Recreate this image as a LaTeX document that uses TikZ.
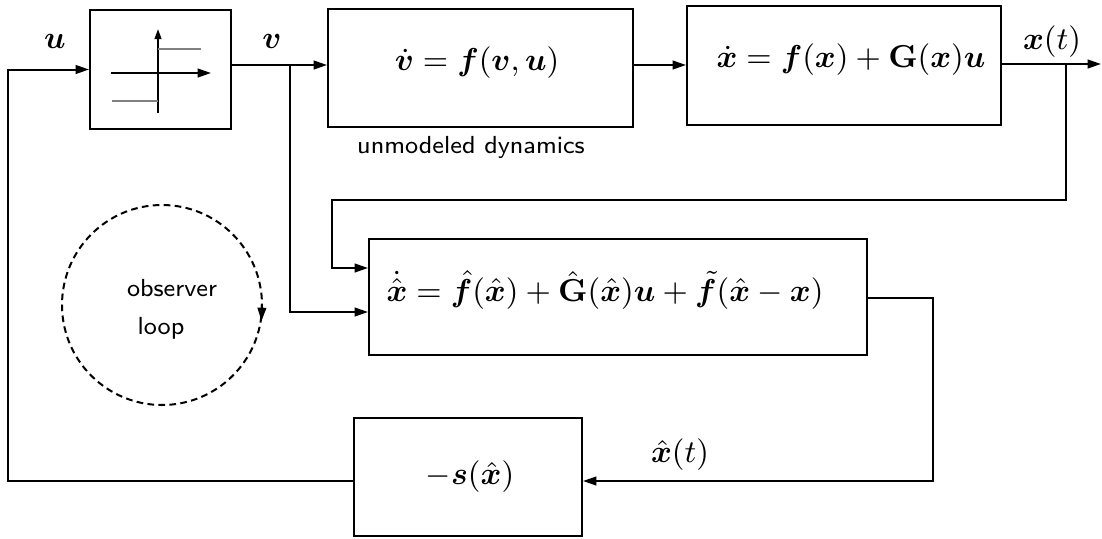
\RequirePackage{fix-cm}
\documentclass[tikz,border=0pt]{standalone}
\usepackage{amsmath,amssymb,bm}
\usetikzlibrary{arrows.meta}
\begin{document}
\begin{tikzpicture}[x=0.3pt,y=-0.3pt,line width=0.6pt,
  >={Triangle[length=4pt,width=2.6pt]},
  blk/.style={draw,rectangle,inner sep=0pt},
  lbl/.style={inner sep=0pt,font=\fontsize{9.5}{11.4}\selectfont},
  sflbl/.style={font=\sffamily\fontsize{7.4}{9}\selectfont,inner sep=0pt}]
\useasboundingbox (0,0) rectangle (1102,538);
% blocks
\node[blk,minimum width=42.3pt,minimum height=35.7pt] (sat) at (160.5,69.5) {};
\node[blk,minimum width=91.5pt,minimum height=35.4pt] (b2) at (480.5,68) {};
\node[blk,minimum width=94.2pt,minimum height=35.7pt] (b3) at (844,65.5) {};
\node[blk,minimum width=149.4pt,minimum height=34.8pt] (obs) at (618,297) {};
\node[blk,minimum width=68.4pt,minimum height=35.4pt] (sw) at (468,477) {};
% block texts
\node[lbl] (t2) at (477,63) {$\dot{\boldsymbol v}=\boldsymbol f(\boldsymbol v,\boldsymbol u)$};
\node[lbl] (t3) at (851,60) {$\dot{\boldsymbol x}=\boldsymbol f(\boldsymbol x)+\mathbf G(\boldsymbol x)\boldsymbol u$};
\node[lbl] (tobs) at (605,290) {$\dot{\hat{\boldsymbol x}}=\hat{\boldsymbol f}(\hat{\boldsymbol x})+\hat{\mathbf G}(\hat{\boldsymbol x})\boldsymbol u+\tilde{\boldsymbol f}(\hat{\boldsymbol x}-\boldsymbol x)$};
\node[lbl] (tsw) at (470,477) {$-\boldsymbol s(\hat{\boldsymbol x})$};
% saturation symbol
\draw[-{Triangle[length=3pt,width=2pt]}] (158,113) -- (158,29);
\draw[->] (111,73) -- (211,73);
\draw[gray,line width=0.5pt] (158,49) -- (201,49);
\draw[gray,line width=0.5pt] (112,101) -- (158,101);
% coordinates
\coordinate (fbL) at (8,481);
\coordinate (vb) at (290,65);
\coordinate (xb) at (1066,64);
\coordinate (xend) at (1101,64);
\coordinate (r1) at (332,200);
\coordinate (in1) at (0,268);
\coordinate (in2) at (0,312);
\coordinate (oo) at (933,298);
\coordinate (fb) at (933,481);
% connectors
\draw[->] (sw.west|-fbL) -- (fbL) |- (sat.west);
\draw[->] (sat.east|-vb) -- (b2.west|-vb);
\draw[->] (b2.east|-vb) -- (b3.west|-vb);
\draw[->] (b3.east|-xb) -- (xend);
\draw[->] (xb) -- (xb|-r1) -- (r1) |- (obs.west|-in1);
\draw[->] (vb) |- (obs.west|-in2);
\draw[->] (obs.east|-oo) -- (oo) -- (fb) -- (sw.east|-fb);
% labels
\node[lbl] (lu) at (55,41) {$\boldsymbol u$};
\node[lbl] (lv) at (272,41) {$\boldsymbol v$};
\node[lbl] (lx) at (1052,42) {$\boldsymbol x(t)$};
\node[lbl] (lxh) at (680,455) {$\hat{\boldsymbol x}(t)$};
\node[sflbl] (lum) at (471,147) {unmodeled dynamics};
% observer loop
\draw[dashed,dash pattern=on 2pt off 1.3pt] (162,305) circle[radius=100];
\draw[-{Triangle[length=4pt,width=2.6pt]}] (262,305) -- (261.5,321);
\node[sflbl] (lobs) at (172,288) {observer};
\node[sflbl] (lloop) at (161,328) {loop};
\end{tikzpicture}
\end{document}
